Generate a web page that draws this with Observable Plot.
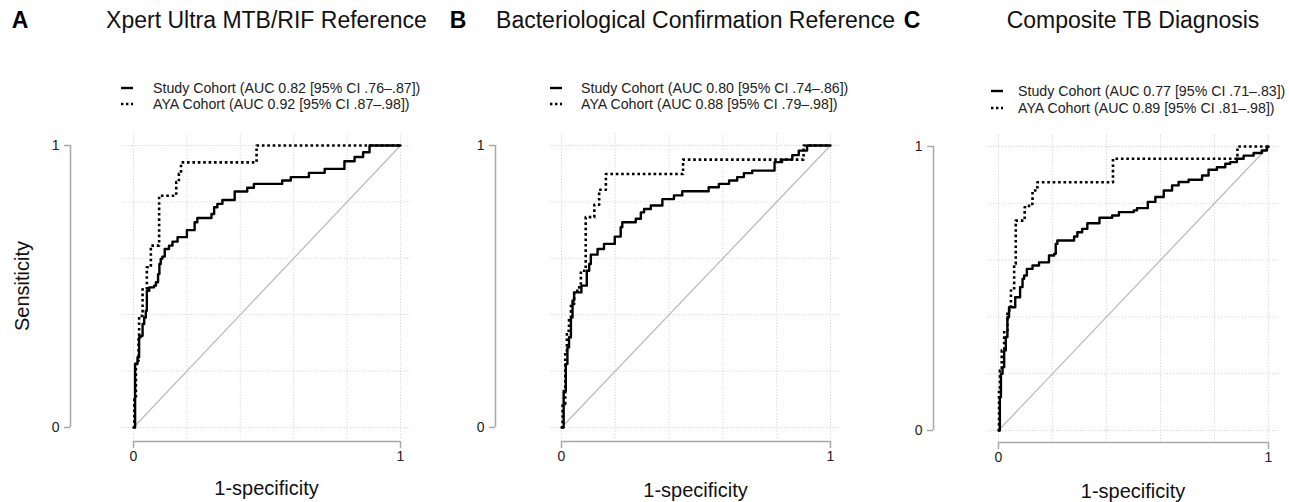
<!DOCTYPE html>
<html>
<head>
<meta charset="utf-8">
<script src="https://cdn.jsdelivr.net/npm/d3@7"></script>
<script src="https://cdn.jsdelivr.net/npm/@observablehq/plot@0.6"></script>
<style>
  html, body { margin: 0; padding: 0; background: #fff; }
  body { font-family: "Liberation Sans", Arial, Helvetica, sans-serif; color: #111; }
  #root { position: relative; width: 1289px; height: 502px; overflow: hidden; }
  .abs { position: absolute; white-space: nowrap; line-height: 1; }
  .panel { position: absolute; top: 0; }
</style>
</head>
<body>
<div id="root"></div>
<script>
// ---------- text ----------
const letters = ["A", "B", "C"];
const titles = ["Xpert Ultra MTB/RIF Reference", "Bacteriological Confirmation Reference", "Composite TB Diagnosis"];
const studyLabels = [
  "Study Cohort (AUC 0.82 [95% CI .76\u2013.87])",
  "Study Cohort (AUC 0.80 [95% CI .74\u2013.86])",
  "Study Cohort (AUC 0.77 [95% CI .71\u2013.83])"
];
const ayaLabels = [
  "AYA Cohort (AUC 0.92 [95% CI .87\u2013.98])",
  "AYA Cohort (AUC 0.88 [95% CI .79\u2013.98])",
  "AYA Cohort (AUC 0.89 [95% CI .81\u2013.98])"
];
const xTitle = "1-specificity";
const yTitle = "Sensiticity";
const axisTicks = [0, 1];
const gridTicks = [0, 0.2, 0.4, 0.6, 0.8, 1];

// ---------- ROC curves (1-specificity, sensitivity) ----------
const studyFprA = [0, 0.006, 0.015, 0.021, 0.027, 0.034, 0.040, 0.046, 0.050, 0.059, 0.077, 0.084, 0.092, 0.097, 0.102, 0.108, 0.117, 0.133, 0.146, 0.165, 0.200, 0.229, 0.239, 0.292, 0.302, 0.314, 0.333, 0.379, 0.426, 0.451, 0.557, 0.589, 0.657, 0.716, 0.790, 0.828, 0.860, 0.884, 1];
const studyTprA = [0, 0.225, 0.249, 0.320, 0.325, 0.367, 0.390, 0.414, 0.485, 0.497, 0.503, 0.515, 0.544, 0.580, 0.598, 0.606, 0.633, 0.645, 0.659, 0.675, 0.700, 0.728, 0.743, 0.757, 0.781, 0.793, 0.807, 0.837, 0.850, 0.864, 0.876, 0.888, 0.903, 0.917, 0.944, 0.959, 0.976, 1, 1];
const ayaFprA = [0, 0.003, 0.009, 0.019, 0.021, 0.034, 0.050, 0.065, 0.096, 0.160, 0.170, 0.178, 0.461, 1];
const ayaTprA = [0, 0.100, 0.237, 0.320, 0.396, 0.490, 0.568, 0.645, 0.822, 0.870, 0.900, 0.940, 1, 1];

const studyFprB = [0, 0.008, 0.016, 0.022, 0.028, 0.035, 0.041, 0.047, 0.074, 0.094, 0.103, 0.109, 0.134, 0.158, 0.198, 0.220, 0.226, 0.276, 0.295, 0.307, 0.332, 0.375, 0.418, 0.449, 0.547, 0.585, 0.623, 0.653, 0.678, 0.709, 0.792, 0.820, 0.858, 0.882, 0.913, 1];
const studyTprB = [0, 0.130, 0.225, 0.284, 0.320, 0.390, 0.450, 0.479, 0.503, 0.556, 0.580, 0.613, 0.633, 0.651, 0.677, 0.710, 0.728, 0.740, 0.763, 0.775, 0.787, 0.810, 0.823, 0.838, 0.852, 0.864, 0.876, 0.888, 0.902, 0.911, 0.941, 0.950, 0.966, 0.982, 1, 1];
const ayaFprB = [0, 0.004, 0.014, 0.020, 0.028, 0.035, 0.047, 0.059, 0.072, 0.090, 0.090, 0.122, 0.140, 0.165, 0.452, 0.900, 1];
const ayaTprB = [0, 0.083, 0.272, 0.343, 0.390, 0.438, 0.485, 0.497, 0.556, 0.604, 0.746, 0.790, 0.843, 0.899, 0.950, 1, 1];

const studyFprC = [0, 0.005, 0.009, 0.015, 0.021, 0.027, 0.033, 0.039, 0.062, 0.080, 0.089, 0.095, 0.105, 0.126, 0.150, 0.187, 0.206, 0.212, 0.218, 0.280, 0.292, 0.310, 0.329, 0.374, 0.421, 0.446, 0.501, 0.513, 0.553, 0.581, 0.612, 0.643, 0.667, 0.704, 0.754, 0.778, 0.809, 0.840, 0.858, 0.883, 0.908, 0.945, 0.975, 0.994, 1];
const studyTprC = [0, 0.117, 0.200, 0.223, 0.282, 0.329, 0.399, 0.434, 0.469, 0.505, 0.534, 0.546, 0.569, 0.581, 0.592, 0.616, 0.622, 0.657, 0.669, 0.683, 0.698, 0.710, 0.730, 0.749, 0.757, 0.769, 0.775, 0.783, 0.805, 0.822, 0.845, 0.863, 0.875, 0.883, 0.898, 0.918, 0.927, 0.939, 0.945, 0.957, 0.968, 0.977, 0.986, 0.998, 1];
const ayaFprC = [0, 0.002, 0.005, 0.012, 0.021, 0.033, 0.046, 0.058, 0.064, 0.097, 0.113, 0.126, 0.144, 0.424, 0.885, 1];
const ayaTprC = [0, 0.141, 0.211, 0.282, 0.352, 0.423, 0.493, 0.587, 0.739, 0.786, 0.798, 0.845, 0.874, 0.957, 1, 1];

const studyFpr = [studyFprA, studyFprB, studyFprC];
const studyTpr = [studyTprA, studyTprB, studyTprC];
const ayaFpr = [ayaFprA, ayaFprB, ayaFprC];
const ayaTpr = [ayaTprA, ayaTprB, ayaTprC];

// ---------- layout (pixel geometry of each panel) ----------
const layout = [
  { left: 0,   width: 430, x0: 133, x1: 400,  yTop: 145, yBot: 427, yAxisX: 70,  xAxisY: 441, symX: 121, textX: 153, row1: 88, row2: 104, letterX: 20,  titleY: 20, xTitleY: 488, yTitle: true },
  { left: 430, width: 430, x0: 561, x1: 830,  yTop: 145, yBot: 427, yAxisX: 495, xAxisY: 441, symX: 550, textX: 581, row1: 88, row2: 104, letterX: 458, titleY: 20, xTitleY: 490, yTitle: false },
  { left: 860, width: 429, x0: 998, x1: 1268, yTop: 146, yBot: 430, yAxisX: 933, xAxisY: 442, symX: 991, textX: 1018, row1: 91, row2: 108, letterX: 912, titleY: 20, xTitleY: 491, yTitle: false }
];
const H = 502;
const PAD = 0.04; // R-style 4% axis extension

const root = document.getElementById("root");
function addText(txt, x, y, css, anchor = "middle", rotate = null) {
  const d = document.createElement("div");
  d.className = "abs";
  d.textContent = txt;
  Object.assign(d.style, css);
  d.style.left = x + "px";
  d.style.top = y + "px";
  const tx = anchor === "middle" ? "-50%" : anchor === "end" ? "-100%" : "0";
  d.style.transform = `translate(${tx}, -50%)`;
  if (rotate) {
    d.style.transformOrigin = "0 0";
    d.style.transform = `rotate(${rotate}) translate(-50%, -50%)`;
  }
  root.appendChild(d);
  return d;
}
function legendSymbol(x, y, dashed) {
  const ns = "http://www.w3.org/2000/svg";
  const s = document.createElementNS(ns, "svg");
  s.setAttribute("width", 14); s.setAttribute("height", 6);
  s.style.position = "absolute"; s.style.left = x + "px"; s.style.top = (y - 3) + "px";
  const l = document.createElementNS(ns, "line");
  l.setAttribute("x1", 0); l.setAttribute("x2", 12); l.setAttribute("y1", 3); l.setAttribute("y2", 3);
  l.setAttribute("stroke", "#000"); l.setAttribute("stroke-width", 2.4);
  if (dashed) l.setAttribute("stroke-dasharray", "2.4,2.6");
  s.appendChild(l);
  root.appendChild(s);
}

layout.forEach((g, i) => {
  const ux = g.x1 - g.x0, uy = g.yBot - g.yTop;
  const regL = g.x0 - PAD * ux, regR = g.x1 + PAD * ux;
  const regT = g.yTop - PAD * uy, regB = g.yBot + PAD * uy;
  const marginLeft = regL - g.left, marginRight = g.left + g.width - regR;
  const marginTop = regT, marginBottom = H - regB;
  const yDx = g.yAxisX - regL;
  const xDy = g.xAxisY - regB;

  const study = studyFpr[i].map((x, j) => ({ x, y: studyTpr[i][j] }));
  const aya = ayaFpr[i].map((x, j) => ({ x, y: ayaTpr[i][j] }));

  const chart = Plot.plot({
    width: g.width, height: H,
    marginLeft, marginRight, marginTop, marginBottom,
    x: { domain: [-PAD, 1 + PAD], label: null },
    y: { domain: [-PAD, 1 + PAD], label: null },
    style: { background: "transparent", fontFamily: "'Liberation Sans', Arial, sans-serif", color: "#111" },
    marks: [
      Plot.ruleX(gridTicks, { stroke: "#cccccc", strokeWidth: 1, strokeDasharray: "1,2" }),
      Plot.ruleY(gridTicks, { stroke: "#cccccc", strokeWidth: 1, strokeDasharray: "1,2" }),
      Plot.line([{ x: 0, y: 0 }, { x: 1, y: 1 }], { x: "x", y: "y", stroke: "#bdbdbd", strokeWidth: 1.3 }),
      Plot.line(aya, { x: "x", y: "y", curve: "step-after", stroke: "#000", strokeWidth: 2.6, strokeDasharray: "2.6,2.8", strokeLinecap: "butt" }),
      Plot.line(study, { x: "x", y: "y", curve: "step-after", stroke: "#000", strokeWidth: 2.4 }),
      // detached y axis
      Plot.ruleX([-PAD], { y1: 0, y2: 1, dx: yDx, stroke: "#a8a8a8", strokeWidth: 1.5 }),
      Plot.axisY(axisTicks, { anchor: "left", dx: yDx, tickSize: 6, tickPadding: 5, stroke: "#a8a8a8", strokeWidth: 1.5, fill: "#222", fontSize: 14, label: null, tickFormat: d => String(d) }),
      // detached x axis
      Plot.ruleY([-PAD], { x1: 0, x2: 1, dy: xDy, stroke: "#a8a8a8", strokeWidth: 1.5 }),
      Plot.axisX(axisTicks, { anchor: "bottom", dy: xDy, tickSize: 7, tickPadding: 3, stroke: "#a8a8a8", strokeWidth: 1.5, fill: "#222", fontSize: 14, label: null, tickFormat: d => String(d) })
    ]
  });
  const wrap = document.createElement("div");
  wrap.className = "panel";
  wrap.style.left = g.left + "px";
  wrap.appendChild(chart);
  root.appendChild(wrap);

  // titles
  addText(letters[i], g.letterX, g.titleY, { fontSize: "23px", fontWeight: "bold", color: "#000" });
  addText(titles[i], (g.x0 + g.x1) / 2, g.titleY, { fontSize: "23px", color: "#111" });
  // legend
  legendSymbol(g.symX, g.row1, false);
  legendSymbol(g.symX, g.row2, true);
  addText(studyLabels[i], g.textX, g.row1, { fontSize: "14.2px", color: "#222" }, "start");
  addText(ayaLabels[i], g.textX, g.row2, { fontSize: "14.2px", color: "#222" }, "start");
  // axis titles
  addText(xTitle, (g.x0 + g.x1) / 2, g.xTitleY, { fontSize: "20px", color: "#111" });
  if (g.yTitle) addText(yTitle, 22, (g.yTop + g.yBot) / 2, { fontSize: "20px", color: "#111" }, "middle", "-90deg");
});
</script>
</body>
</html>
